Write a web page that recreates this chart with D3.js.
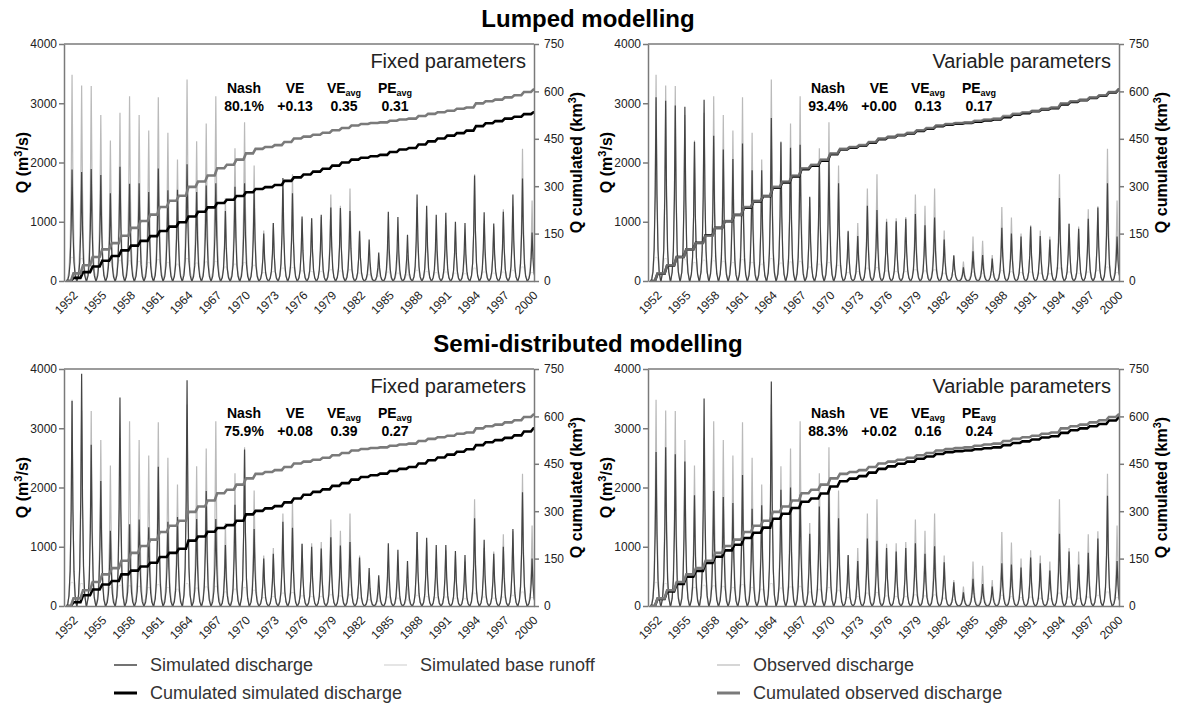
<!DOCTYPE html>
<html><head><meta charset="utf-8">
<script src="https://cdn.jsdelivr.net/npm/d3@7"></script>
<style>body{margin:0;background:#fff} svg text{font-family:"Liberation Sans",Arial,sans-serif}</style>
</head><body><svg id="c" width="1177" height="706"></svg>
<script>
// ---------- data ----------
const years = [1952,1953,1954,1955,1956,1957,1958,1959,1960,1961,1962,1963,1964,1965,1966,1967,1968,1969,1970,1971,1972,1973,1974,1975,1976,1977,1978,1979,1980,1981,1982,1983,1984,1985,1986,1987,1988,1989,1990,1991,1992,1993,1994,1995,1996,1997,1998,1999,2000];
const xTickYears = [1952,1955,1958,1961,1964,1967,1970,1973,1976,1979,1982,1985,1988,1991,1994,1997,2000];
const qTicks = [0,1000,2000,3000,4000];
const cumTicks = [0,150,300,450,600,750];

// annual peak discharge (m3/s)
const obsPeak = [3480,3300,3290,2800,2370,2840,3120,2800,2540,3100, 2500,2050,3400,2360,2660,3120,1400,2240,2680,1950, 850,980,1560,1800,1050,1060,1080,1460,1270,1560, 850,440,330,750,680,440,1250,1070,800,940, 850,750,1800,980,920,1210,1260,2230,1360];
const simPeakLumpedFixed = [1880,1840,1890,1790,1480,1930,1640,1650,1500,1900, 1530,1540,1970,1500,1610,1650,1180,1590,1650,1500, 800,980,1740,1480,1090,1060,1120,1240,1230,1180, 840,700,480,1170,1080,780,1460,1270,1120,1150, 1000,980,1780,1160,970,1170,1460,1730,820];
const simPeakLumpedVar = [3100,3040,2960,2940,2350,3060,2450,2220,2060,2320, 1870,1870,2750,2340,2250,2300,1420,2000,2050,1650, 840,760,1270,1200,1000,1010,1050,1130,940,1070, 700,430,230,500,440,380,900,800,750,920, 760,700,1400,960,880,1050,1240,1650,750];
const simPeakSemiFixed = [3460,3920,2720,2110,1270,3520,1380,1460,1330,2350, 1420,1500,3810,1470,1940,1470,1030,1710,2640,1300, 800,880,1420,1320,1050,1000,970,1160,1020,1080, 820,640,520,1060,950,760,1250,1150,1030,1030, 930,860,1480,1120,880,1000,1300,1920,800];
const simPeakSemiVar = [2600,2680,2560,2440,1870,3500,1940,1840,1740,2210, 1640,1700,3790,1960,2000,1880,1220,1680,1980,1480, 860,760,1140,1100,980,920,980,1060,880,1010, 740,400,230,460,370,330,720,700,650,820, 720,600,1220,920,700,900,1140,1860,760];
const baseRunoff = [420,400,410,380,330,370,360,350,330,380, 330,300,400,320,340,350,250,300,330,280, 150,170,230,240,180,170,170,200,180,200, 140,110,90,160,140,110,190,170,150,160, 140,130,230,160,140,160,190,250,150];

// cumulated volume at year end (km3)
const cumObs = [24,50,76,100,120,143,168,190,210,234, 254,270,298,315,334,357,368,384,404,418, 424,430,440,451,457,463,469,477,484,492, 497,500,502,507,511,514,522,529,534,539, 545,549,562,569,574,581,588,598,606];
const cumLumpedFixed = [10,28,46,64,79,97,112,127,142,158, 172,186,204,219,233,247,257,269,281,291, 297,304,317,328,337,346,355,365,375,384, 390,395,399,408,416,421,432,442,451,460, 468,476,490,499,506,514,520,528,534];
const cumLumpedVar = [23,49,76,100,121,145,168,189,209,232, 252,268,295,312,331,354,365,381,401,416, 422,428,438,449,455,461,467,475,482,490, 495,498,500,504,508,511,518,526,531,537, 543,547,559,567,572,579,586,597,606];
const cumSemiFixed = [12,34,52,68,79,100,112,125,137,155, 168,181,207,220,235,247,256,270,290,301, 309,316,328,340,352,361,369,380,389,400, 408,414,419,427,434,440,451,461,470,479, 488,496,509,518,525,532,540,552,562];
const cumSemiVar = [22,46,70,93,111,136,156,176,194,215, 232,248,276,292,310,330,340,356,378,395, 403,411,422,434,442,450,457,466,473,481, 487,490,492,496,499,502,509,516,521,527, 533,537,548,556,562,569,576,587,596];

const panelTitles = ["Fixed parameters","Variable parameters","Fixed parameters","Variable parameters"];
const nashVals = ["80.1%","93.4%","75.9%","88.3%"];
const veVals = ["+0.13","+0.00","+0.08","+0.02"];
const veAvgVals = ["0.35","0.13","0.39","0.16"];
const peAvgVals = ["0.31","0.17","0.27","0.24"];
const sectionTitles = ["Lumped modelling","Semi-distributed modelling"];
const legendLabels = ["Simulated discharge","Simulated base runoff","Observed discharge","Cumulated simulated discharge","Cumulated observed discharge"];

// ---------- drawing ----------
const svg = d3.select("#c");
const C = {obs:"#bababa", sim:"#444", base:"#e2e2e2", cumObs:"#7a7a7a", cumSim:"#000", axis:"#7a7a7a", text:"#222"};

const layout = [
  {x0:64, x1:534, y0:44, y1:281},
  {x0:648, x1:1119, y0:44, y1:281},
  {x0:64, x1:534, y0:369, y1:606},
  {x0:648, x1:1119, y0:369, y1:606}
];
const simPeaks = [simPeakLumpedFixed, simPeakLumpedVar, simPeakSemiFixed, simPeakSemiVar];
const simCums = [cumLumpedFixed, cumLumpedVar, cumSemiFixed, cumSemiVar];

// hydrograph pulse template (shape of each annual flood)
const pulseDt = [-0.48,-0.32,-0.2,-0.09,0,0.09,0.2,0.32,0.48];
const pulseF  = [0,0.05,0.17,0.47,1,0.47,0.17,0.05,0];
const humpDt = [-0.5,-0.32,-0.12,0.12,0.32,0.5];
const humpF  = [0.05,0.45,0.95,0.95,0.45,0.05];

function pulses(peaks, dts, fs){
  const pts=[];
  years.forEach((y,i)=>dts.forEach((dt,k)=>pts.push([y+dt, peaks[i]*fs[k]])));
  return pts;
}
function steps(cum){
  const pts=[[years[0]-0.6,0]];
  years.forEach((y,i)=>{ pts.push([y-0.12, i? cum[i-1]:0]); pts.push([y+0.15, cum[i]]); });
  pts.push([years[years.length-1]+0.2, cum[cum.length-1]]);
  return pts;
}

// section titles
[27,352].forEach((yy,i)=>svg.append("text").attr("x",588).attr("y",yy).attr("text-anchor","middle")
  .attr("font-size",24).attr("font-weight","bold").attr("fill","#000").text(sectionTitles[i]));

layout.forEach((p,pi)=>{
  const x = d3.scaleLinear().domain([1951.16,2000.2]).range([p.x0,p.x1]);
  const yQ = d3.scaleLinear().domain([0,4000]).range([p.y1,p.y0]);
  const yC = d3.scaleLinear().domain([0,750]).range([p.y1,p.y0]);
  const g = svg.append("g");
  const cid = "clip"+pi;
  svg.append("clipPath").attr("id",cid).append("rect").attr("x",p.x0).attr("y",p.y0-2).attr("width",p.x1-p.x0).attr("height",p.y1-p.y0+2);
  const plot = g.append("g").attr("clip-path",`url(#${cid})`);
  const lq = d3.line().x(d=>x(d[0])).y(d=>yQ(d[1]));
  const lc = d3.line().x(d=>x(d[0])).y(d=>yC(d[1]));

  plot.append("path").attr("d",lq(pulses(baseRunoff,humpDt,humpF))).attr("fill","none").attr("stroke",C.base).attr("stroke-width",1);
  plot.append("path").attr("d",lq(pulses(obsPeak,pulseDt,pulseF))).attr("fill","none").attr("stroke",C.obs).attr("stroke-width",1.2);
  plot.append("path").attr("d",lq(pulses(simPeaks[pi],pulseDt,pulseF))).attr("fill","none").attr("stroke",C.sim).attr("stroke-width",1.2);
  plot.append("path").attr("d",lc(steps(simCums[pi]))).attr("fill","none").attr("stroke",C.cumSim).attr("stroke-width",2.6);
  plot.append("path").attr("d",lc(steps(cumObs))).attr("fill","none").attr("stroke",C.cumObs).attr("stroke-width",2.6).attr("stroke-opacity",pi===1?0.85:1);

  // frame top
  g.append("line").attr("x1",p.x0).attr("x2",p.x1).attr("y1",p.y0).attr("y2",p.y0).attr("stroke",C.axis).attr("stroke-width",1.5);

  const styleAxis = a=>{
    a.selectAll("path,line").attr("stroke",C.axis).attr("stroke-width",1.5);
    a.selectAll("text").attr("fill",C.text).attr("font-size",12).attr("font-family",'"Liberation Sans",Arial,sans-serif');
  };
  const ax = g.append("g").attr("transform",`translate(0,${p.y1})`)
    .call(d3.axisBottom(x).tickValues(xTickYears).tickFormat(d3.format("d")).tickSize(0).tickSizeOuter(0));
  styleAxis(ax);
  ax.selectAll("text").attr("x",0).attr("y",0).attr("dy",0).attr("text-anchor","end")
    .attr("transform","translate(6,15) rotate(-45)");

  const al = g.append("g").attr("transform",`translate(${p.x0},0)`)
    .call(d3.axisLeft(yQ).tickValues(qTicks).tickFormat(d3.format("d")).tickSize(5).tickPadding(2).tickSizeOuter(0));
  styleAxis(al);
  const ar = g.append("g").attr("transform",`translate(${p.x1},0)`)
    .call(d3.axisRight(yC).tickValues(cumTicks).tickFormat(d3.format("d")).tickSize(5).tickPadding(5).tickSizeOuter(0));
  styleAxis(ar);

  const cy = (p.y0+p.y1)/2;
  const lt = g.append("text").attr("transform",`translate(${p.x0-42},${cy}) rotate(-90)`).attr("text-anchor","middle")
    .attr("dy","0.35em").attr("font-size",16).attr("font-weight","bold").attr("fill","#000");
  lt.append("tspan").text("Q (m");
  lt.append("tspan").attr("dy",-6).attr("font-size",11).text("3");
  lt.append("tspan").attr("dy",6).text("/s)");
  const rt = g.append("text").attr("transform",`translate(${p.x1+42},${cy}) rotate(-90)`).attr("text-anchor","middle")
    .attr("dy","0.35em").attr("font-size",16).attr("font-weight","bold").attr("fill","#000");
  rt.append("tspan").text("Q cumulated (km");
  rt.append("tspan").attr("dy",-6).attr("font-size",11).text("3");
  rt.append("tspan").attr("dy",6).text(")");

  g.append("text").attr("x",p.x1-8).attr("y",p.y0+24).attr("text-anchor","end").attr("font-size",20).attr("fill","#222").text(panelTitles[pi]);

  const cols = [180,231,280,331];
  const hy = p.y0+49, vy = p.y0+67;
  const hdr = (cx, main, sub)=>{
    const t = g.append("text").attr("x",p.x0+cx).attr("y",hy).attr("text-anchor","middle").attr("font-size",14).attr("font-weight","bold").attr("fill","#000");
    t.append("tspan").text(main);
    if(sub) t.append("tspan").attr("dy",3).attr("font-size",9).text(sub);
  };
  hdr(cols[0],"Nash"); hdr(cols[1],"VE"); hdr(cols[2],"VE","avg"); hdr(cols[3],"PE","avg");
  [nashVals[pi],veVals[pi],veAvgVals[pi],peAvgVals[pi]].forEach((v,k)=>
    g.append("text").attr("x",p.x0+cols[k]).attr("y",vy).attr("text-anchor","middle").attr("font-size",14).attr("font-weight","bold").attr("fill","#000").text(v));
});

// legend
const legItems = [
  {x:114, y:665, c:C.sim, w:1.5},
  {x:384, y:665, c:"#dcdcdc", w:1.5},
  {x:717, y:665, c:"#c8c8c8", w:1.5},
  {x:114, y:693, c:C.cumSim, w:3},
  {x:717, y:693, c:C.cumObs, w:3}
];
legItems.forEach((d,i)=>{
  svg.append("line").attr("x1",d.x).attr("x2",d.x+23).attr("y1",d.y).attr("y2",d.y).attr("stroke",d.c).attr("stroke-width",d.w);
  svg.append("text").attr("x",d.x+36).attr("y",d.y).attr("dy","0.35em").attr("font-size",18).attr("fill","#333").text(legendLabels[i]);
});
</script></body></html>
